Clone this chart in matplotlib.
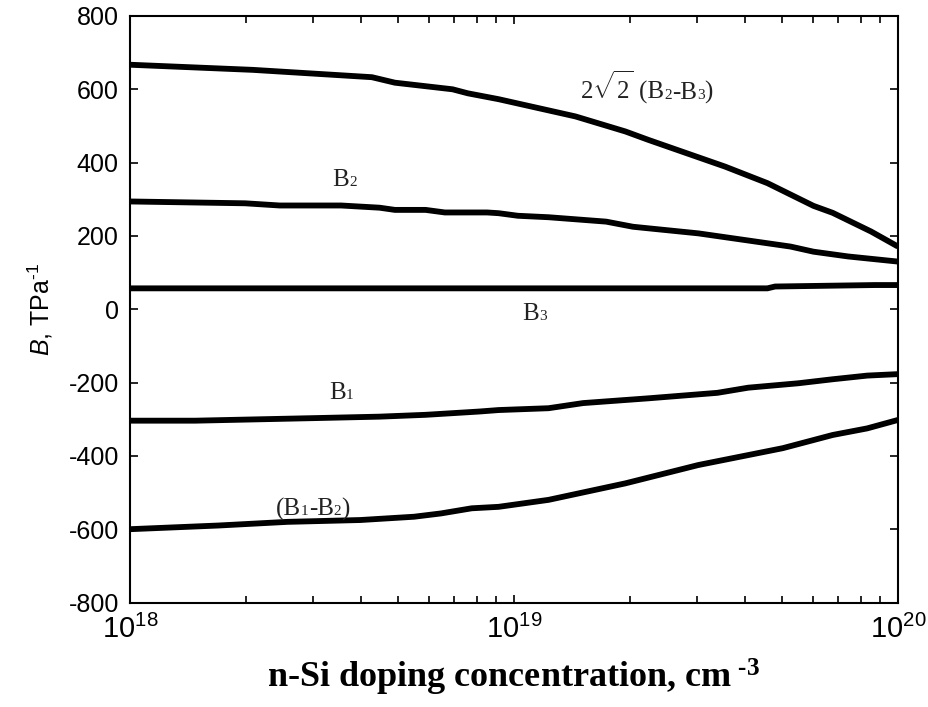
import numpy as np
import matplotlib
matplotlib.use("Agg")
import matplotlib.pyplot as plt
from matplotlib.offsetbox import TextArea, HPacker, AnnotationBbox
from matplotlib.ticker import LogLocator, FixedLocator, NullFormatter, FuncFormatter

plt.rcParams["mathtext.fontset"] = "custom"
plt.rcParams["mathtext.rm"] = "Liberation Serif"
plt.rcParams["mathtext.it"] = "Liberation Sans:italic"
plt.rcParams["mathtext.bf"] = "Liberation Serif:bold"
plt.rcParams["mathtext.default"] = "regular"
plt.rcParams["axes.unicode_minus"] = False

# Doping concentration exponents (log10 of cm^-3) and piezo-coefficient curves (TPa^-1)
top_exp = [18.00, 18.32, 18.63, 18.69, 18.84, 18.88, 18.96, 19.16, 19.29, 19.35,
           19.55, 19.66, 19.78, 19.83, 19.93, 20.00]
top_val = [667, 653, 633, 618, 600, 589, 573, 526, 485, 462, 389, 344, 282, 263, 212, 171]

b2_exp = [18.00, 18.30, 18.39, 18.55, 18.65, 18.69, 18.77, 18.82, 18.93, 18.96, 19.01,
          19.09, 19.24, 19.31, 19.48, 19.66, 19.72, 19.78, 19.87, 20.00]
b2_val = [294, 289, 283, 283, 277, 271, 271, 264, 264, 262, 255, 251, 239, 225, 207, 180,
          171, 157, 144, 130]

b3_exp = [18.00, 18.50, 19.00, 19.50, 19.66, 19.68, 19.94, 20.00]
b3_val = [57, 57, 57, 57, 57, 62, 66, 66]

b1_exp = [18.00, 18.17, 18.48, 18.65, 18.77, 18.91, 18.96, 19.09, 19.18, 19.35, 19.53,
          19.61, 19.74, 19.83, 19.92, 20.00]
b1_val = [-304, -304, -297, -293, -288, -279, -275, -270, -256, -243, -228, -214, -202,
          -191, -181, -177]

b12_exp = [18.00, 18.23, 18.41, 18.60, 18.74, 18.81, 18.89, 18.96, 19.09, 19.29, 19.48,
           19.70, 19.83, 19.92, 20.00]
b12_val = [-600, -590, -580, -575, -566, -557, -543, -539, -520, -475, -425, -379, -343,
           -325, -302]

y_ticks = [-800, -600, -400, -200, 0, 200, 400, 600, 800]
x_ticks = [1e18, 1e19, 1e20]

fig = plt.figure(figsize=(9.29, 7.07), dpi=100)
ax = fig.add_axes([0.1399, 0.1478, 0.8267, 0.8296])

for e, v in [(top_exp, top_val), (b2_exp, b2_val), (b3_exp, b3_val),
             (b1_exp, b1_val), (b12_exp, b12_val)]:
    ax.plot(10.0 ** np.array(e), v, color="black", lw=4.2, solid_capstyle="butt",
            solid_joinstyle="round")

ax.set_xscale("log")
ax.set_xlim(1e18, 1e20)
ax.set_ylim(-800, 800)
ax.yaxis.set_major_locator(FixedLocator(y_ticks))
ax.xaxis.set_major_locator(FixedLocator(x_ticks))
ax.xaxis.set_minor_locator(LogLocator(base=10, subs=np.arange(2, 10)))
ax.xaxis.set_minor_formatter(NullFormatter())
ax.xaxis.set_major_formatter(FuncFormatter(lambda v, p: r"$10^{%d}$" % round(np.log10(v))))

for s in ax.spines.values():
    s.set_linewidth(1.5)
ax.tick_params(which="both", direction="in", top=True, right=True, width=1.2)
ax.tick_params(which="major", length=5.5)
ax.tick_params(which="minor", length=5)
ax.tick_params(axis="y", labelsize=18, pad=8)
ax.tick_params(axis="x", labelsize=21, pad=9)
for lab in ax.get_yticklabels():
    lab.set_family("Liberation Sans")
for lab in ax.get_xticklabels():
    lab.set_family("Liberation Sans")

ax.set_ylabel("$\\mathit{B}$, TPa$^{\u20101}$", family="Liberation Sans", fontsize=18,
              labelpad=10)
ax.set_xlabel("n-Si doping concentration, cm$^{\\ \u20103}$", family="Liberation Serif",
              fontweight="bold", fontsize=26, labelpad=9)


def curve_label(x, y, parts):
    kids = [TextArea(t, textprops=dict(fontsize=s, family="Liberation Serif", color="#222222"))
            for t, s in parts]
    box = HPacker(children=kids, align="baseline", pad=0, sep=0)
    ab = AnnotationBbox(box, (x, y), xycoords="data", frameon=False,
                        box_alignment=(0.5, 0.5), pad=0)
    ax.add_artist(ab)


big, small = 18, 11
curve_label(10 ** 19.345, 604, [(r"$2\sqrt{2}$", big), ("\u2009(B", big), ("2", small),
                                ("-B", big), ("3", small), (")", big)])
curve_label(10 ** 18.559, 352, [("B", big), ("2", small)])
curve_label(10 ** 19.053, -13, [("B", big), ("3", small)])
curve_label(10 ** 18.551, -229, [("B", big), ("1", small)])
curve_label(10 ** 18.476, -545, [("(B", big), ("1", small), ("-B", big), ("2", small),
                                 (")", big)])

fig.savefig("out.png", dpi=100)
